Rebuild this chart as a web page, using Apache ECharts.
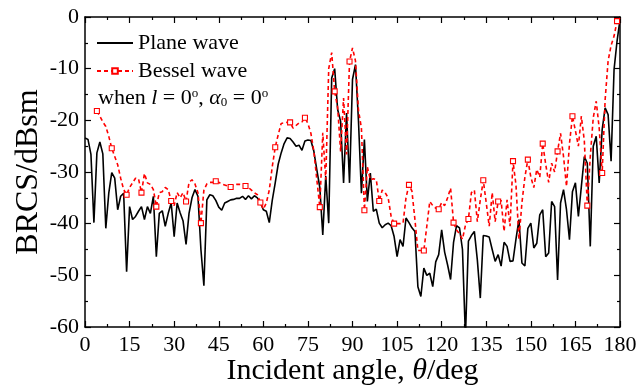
<!DOCTYPE html>
<html>
<head>
<meta charset="utf-8">
<script src="https://cdn.jsdelivr.net/npm/echarts@6/dist/echarts.min.js"></script>
<style>html,body{margin:0;padding:0;background:#fff}#c{width:641px;height:386px}</style>
</head>
<body>
<div id="c"></div>
<script>
// Incident angle grid (deg), one sample per degree
const angles = Array.from({length: 181}, (_, i) => i);
const xTicks = [0, 15, 30, 45, 60, 75, 90, 105, 120, 135, 150, 165, 180];
const yTicks = [0, -10, -20, -30, -40, -50, -60];

// Plane wave BRCS (dBsm)
const planeWave = [
-23.4,-23.7,-26.6,-39.8,-26.3,-24.2,-26.5,-40.9,-34.1,-30.1,
-31.2,-37.3,-34.7,-34.1,-49.3,-36.7,-39.2,-38.6,-37.6,-36.7,
-39.2,-36.7,-38,-34.7,-46.4,-38,-37.5,-40.5,-38,-36,
-42.5,-36,-37.9,-39.5,-44,-38,-35,-33.4,-34.7,-45,
-52,-35.4,-34.4,-34.6,-35.5,-36.8,-37.4,-36,-35.7,-35.4,
-35.3,-35.1,-35.1,-34.7,-35.3,-34.6,-35.2,-34.6,-35,-35.9,
-37.3,-37.6,-39.8,-35.5,-32.1,-28.5,-26.3,-24.5,-23.4,-23.5,
-24.2,-25,-24.8,-25.8,-24,-23.8,-23.9,-26,-29.6,-33,
-42.2,-30.8,-39.9,-11.8,-10,-17.9,-20.2,-32.1,-18.6,-32.1,
-12.1,-9.2,-20,-34.1,-23.7,-35.7,-30.2,-37.6,-37.2,-39.9,
-40.8,-40.2,-39.9,-40.4,-42.5,-46.4,-43.1,-44.4,-38.9,-39.8,
-40.8,-41.5,-52.2,-54.1,-48.6,-50,-49.6,-52.2,-47.4,-46,
-41.2,-45.5,-48,-50.8,-43.6,-40.4,-40.8,-45,-62,-43.4,
-42.3,-41.5,-47,-54.4,-42.3,-42.4,-42.6,-45,-47.3,-46,
-48.2,-43.6,-44.4,-47.3,-47.2,-43,-39.2,-47.6,-48.2,-40.9,
-39.9,-44.7,-43.8,-38.3,-37.3,-46.4,-45.7,-35.7,-36.7,-50.9,
-36,-33.4,-37.3,-43.1,-33.8,-32.1,-38.6,-32.8,-27,-28.3,
-44.4,-25,-23.1,-32.1,-21.8,-17.6,-18.9,-27.9,-10.2,-4.7,
-0.5
];

// Bessel wave BRCS (dBsm)
const besselWave = [
null,null,null,null,-18.2,-19.2,-20.3,-21.2,-23.1,-25.4,
-27,-28.6,-31.2,-33.4,-34.4,-33,-32.1,-31.2,-31.3,-34,
-30.3,-32.1,-32.4,-33.4,-36.7,-34,-33.8,-33,-33.4,-35.6,
-36.5,-34,-35,-34,-35.7,-32,-31.5,-32.3,-34,-39.9,
-33.5,-32.3,-32,-32,-31.8,-32,-32.3,-32.5,-32.7,-32.9,
-32.6,-32.4,-32.4,-32.5,-32.7,-33,-33.5,-34,-34.4,-35.9,
-37.2,-36,-33.5,-29,-25.2,-22.8,-20.6,-20.5,-20.4,-20.4,
-21.5,-21,-20.5,-20.3,-19.5,-20.6,-22.5,-26,-31.5,-36.8,
-22.4,-31.5,-10,-6.9,-14.4,-17.5,-26,-15.7,-26.6,-8.6,
-6,-8.5,-18,-21.5,-37.4,-29,-31.5,-31.3,-31.5,-35.6,
-33.5,-34,-35,-38.6,-40,-40,-40,-39.9,-35,-32.5,
-33.7,-39.2,-45.2,-45.2,-45.2,-40.5,-35.7,-36.5,-37,-37.2,
-35.9,-36.5,-35,-33.1,-39.8,-41.2,-42,-43,-40.3,-39.1,
-34,-33.5,-39.6,-35.4,-31.6,-36,-40.5,-34,-39.6,-35.7,
-35.5,-41.5,-35.4,-40.5,-27.9,-32.5,-43,-36,-31,-27.6,
-31,-33,-29.5,-31,-24.5,-28.5,-32,-28.3,-30,-26,
-22.5,-27,-32.8,-24.5,-19.2,-22,-25,-19.2,-24,-36.5,
-27,-19.5,-16.3,-21.5,-30.2,-16,-8.5,-5.5,-3.7,-0.8,
-0.2
];
// Bessel markers every 5 degrees starting at 4 deg
const markerStart = 4, markerStep = 5;

const FONT = '"Liberation Serif","Times New Roman",serif';

const planeData = angles.map((a, i) => [a, planeWave[i]]);
const besselData = angles.map((a, i) => {
  const v = besselWave[i];
  const marked = i >= markerStart && (i - markerStart) % markerStep === 0;
  return {value: [a, v], symbol: marked ? 'rect' : 'none'};
});

const axisLineStyle = {color: '#000', width: 1.5};
function xAxis(pos, show) {
  return {
    type: 'value', position: pos, min: 0, max: 180, interval: 15,
    axisLine: {show: true, onZero: false, lineStyle: axisLineStyle},
    axisTick: {show: true, inside: true, length: 6, lineStyle: {color: '#000', width: 1.2}},
    minorTick: {show: true, splitNumber: 2, length: 3, lineStyle: {color: '#000', width: 1.2}},
    splitLine: {show: false},
    axisLabel: {show: show, color: '#000', fontFamily: FONT, fontSize: 22, margin: 7,
      formatter: v => xTicks.includes(v) ? String(v) : ''}
  };
}
function yAxis(pos, show) {
  return {
    type: 'value', position: pos, min: -60, max: 0, interval: 10,
    axisLine: {show: true, onZero: false, lineStyle: axisLineStyle},
    axisTick: {show: true, inside: true, length: 6, lineStyle: {color: '#000', width: 1.2}},
    minorTick: {show: true, splitNumber: 2, length: 3, lineStyle: {color: '#000', width: 1.2}},
    splitLine: {show: false},
    axisLabel: {show: show, color: '#000', fontFamily: FONT, fontSize: 22, margin: 6,
      formatter: v => yTicks.includes(v) ? String(v) : ''}
  };
}

const xa0 = xAxis('bottom', true);
xa0.name = '{n|Incident angle, }{i|θ}{n|/deg}';
xa0.nameLocation = 'middle';
xa0.nameGap = 29;
xa0.nameMoveOverlap = false;
xa0.nameTextStyle = {color: '#000', fontFamily: FONT, fontSize: 30,
  rich: {n: {fontFamily: FONT, fontSize: 30, color: '#000'},
         i: {fontFamily: FONT, fontSize: 30, color: '#000', fontStyle: 'italic'}}};
const ya0 = yAxis('left', true);
ya0.name = 'BRCS/dBsm';
ya0.nameLocation = 'middle';
ya0.nameGap = 40;
ya0.nameMoveOverlap = false;
ya0.nameTextStyle = {color: '#000', fontFamily: FONT, fontSize: 32};

const chart = echarts.init(document.getElementById('c'), null, {renderer: 'canvas'});
chart.setOption({
  animation: false,
  backgroundColor: '#fff',
  grid: {left: 85, right: 21, top: 17, bottom: 59, containLabel: false, outerBoundsMode: 'none'},
  xAxis: [xa0, xAxis('top', false)],
  yAxis: [ya0, yAxis('right', false)],
  legend: {
    left: 96, top: 32, orient: 'vertical', itemWidth: 36, itemHeight: 7, itemGap: 6, padding: 0,
    textStyle: {color: '#000', fontFamily: FONT, fontSize: 22},
    data: [{name: 'Plane wave', itemStyle: {opacity: 0}}, 'Bessel wave']
  },
  graphic: [{
    type: 'text', left: 98, top: 87,
    style: {
      text: '{n|when }{i|l}{n| = 0}{s|o}{n|, }{i|α}{b|0}{n| = 0}{s|o}',
      rich: {
        n: {fontFamily: FONT, fontSize: 22, fill: '#000', color: '#000'},
        i: {fontFamily: FONT, fontSize: 22, fontStyle: 'italic', fill: '#000', color: '#000'},
        s: {fontFamily: FONT, fontSize: 13, fill: '#000', color: '#000', verticalAlign: 'top', padding: [0, 0, 8, 0]},
        b: {fontFamily: FONT, fontSize: 13, fill: '#000', color: '#000', verticalAlign: 'bottom', padding: [6, 0, 0, 0]}
      }
    }
  }],
  series: [
    {
      name: 'Plane wave', type: 'line', data: planeData, xAxisIndex: 0, yAxisIndex: 0,
      symbol: 'none', showSymbol: false, clip: true,
      lineStyle: {color: '#000', width: 1.6}, itemStyle: {color: '#000'}, z: 2
    },
    {
      name: 'Bessel wave', type: 'line', data: besselData, xAxisIndex: 0, yAxisIndex: 0,
      symbol: 'rect', symbolSize: 5, showSymbol: true, clip: true, connectNulls: false,
      lineStyle: {color: '#ff0000', width: 1.6, type: [4, 3]},
      itemStyle: {color: '#fff', borderColor: '#ff0000', borderWidth: 1.1}, z: 3
    }
  ]
});
</script>
</body>
</html>
